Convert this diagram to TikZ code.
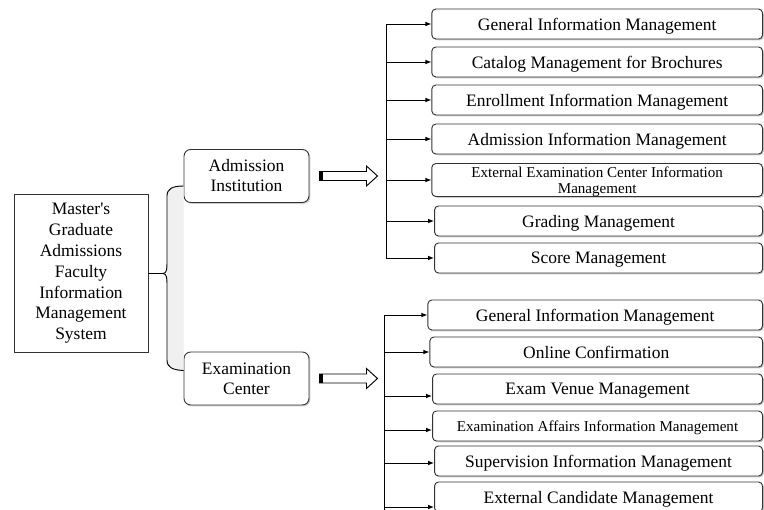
\documentclass[tikz,border=0pt]{standalone}
\usepackage{fontspec}
\setmainfont{Liberation Serif}
\usetikzlibrary{arrows.meta,shadows}

\begin{document}
\begin{tikzpicture}[x=0.75pt, y=-0.75pt, line width=0.7pt,
  sys/.style = {draw=black!80, fill=white, align=center, minimum width=100.5pt, minimum height=118pt, font=\fontsize{13.1}{15.6}\selectfont, drop shadow={shadow xshift=0.8pt, shadow yshift=-0.8pt, opacity=0.4}},
  part/.style = {draw=black!80, fill=white, rounded corners=5pt, align=center, minimum width=93.75pt, minimum height=39.75pt, font=\fontsize{13.1}{15}\selectfont, drop shadow={shadow xshift=1pt, shadow yshift=-1pt, opacity=0.4}},
  leaf/.style = {draw=black!80, fill=white, rounded corners=3pt, anchor=east, align=center, text depth=0pt, minimum width=248pt, minimum height=22.5pt, font=\fontsize{13.1}{15}\selectfont, drop shadow={shadow xshift=1pt, shadow yshift=-1pt, opacity=0.4}},
  small/.style = {font=\fontsize{11.3}{12.3}\selectfont, inner ysep=0.5pt},
  link/.style = {-{Latex[length=4.5pt,width=3.5pt]}},
  hollow/.pic = {\draw[fill=white] (0,-4.5) -- (47,-4.5) -- (47,-10) -- (58,0) -- (47,10) -- (47,4.5) -- (0,4.5) -- cycle;
    \fill (0,-4.5) rectangle (3.5,4.5);}]
\useasboundingbox (0,0) rectangle (764,510);
\clip (0,0) rectangle (764,510);

% root and the two parts
\node[sys] (sys) at (81,273.5) {Master\textquotesingle s\\Graduate\\Admissions\\Faculty\\Information\\Management\\System};
\node[part] (adm) at (246.5,176) {Admission\\Institution};
\node[part] (exam) at (246.5,378.5) {Examination\\Center};

% brace
\coordinate (bt) at ([yshift=-7.5pt]adm.west);
\coordinate (bb) at ([yshift=6pt]exam.west);
\fill[gray!12] (bt) .. controls (172,186) and (167,189) .. (167,196) -- (167,360) .. controls (167,367) and (172,370) .. (bb) -- cycle;
\draw (sys.east) -- (163,273.5) .. controls (167,273.5) and (167,268) .. (167,262) -- (167,196) .. controls (167,189) and (172,186) .. (bt);
\draw (163,273.5) .. controls (167,273.5) and (167,279) .. (167,285) -- (167,360) .. controls (167,367) and (172,370) .. (bb);

\pic at ([xshift=7.5pt]adm.east) {hollow};
\pic at ([xshift=7.5pt]exam.east) {hollow};

% admission institution
\node[leaf] (a1) at (763,24) {General Information Management};
\node[leaf] (a2) at (763,62) {Catalog Management for Brochures};
\node[leaf] (a3) at (763,100) {Enrollment Information Management};
\node[leaf] (a4) at (763,139) {Admission Information Management};
\node[leaf, small, minimum height=24.75pt] (a5) at (763,180) {External Examination Center Information\\Management};
\node[leaf, minimum width=246pt] (a6) at (763,221) {Grading Management};
\node[leaf, minimum width=246pt] (a7) at (763,258) {Score Management};

\coordinate (tb) at (386,0);
\draw (tb |- a1.west) -- (tb |- a7.west);
\foreach \n in {a1,a2,a3,a4,a5,a6,a7}
  \draw[link] (tb |- \n.west) -- (\n.west);

% examination center
\node[leaf, minimum width=251pt] (b1) at (763,315) {General Information Management};
\node[leaf, minimum width=249.5pt] (b2) at (763,352) {Online Confirmation};
\node[leaf, minimum width=247.5pt] (b3) at (763,389) {Exam Venue Management};
\node[leaf, small, minimum width=247.5pt] (b4) at (763,426) {Examination Affairs Information Management};
\node[leaf, minimum width=246pt] (b5) at (763,461) {Supervision Information Management};
\node[leaf, minimum width=246pt] (b6) at (763,497) {External Candidate Management};

\coordinate (eb) at (384,0);
\draw (eb |- b1.west) -- (384,515);
\foreach \n/\d in {b1/0,b2/0,b3/-5.25,b4/-3,b5/-1.5,b6/-7.5}
  \draw[link] ([yshift=\d pt]\n.west -| eb) -- ([yshift=\d pt]\n.west);
\end{tikzpicture}
\end{document}
